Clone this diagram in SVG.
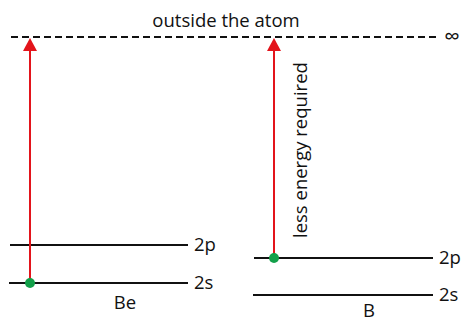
<svg xmlns="http://www.w3.org/2000/svg" width="462" height="322" viewBox="0 0 462 322">
<style>
text{font-family:"Open Sans","Liberation Sans",sans-serif;font-size:18.5px;fill:#111}
.lvl{stroke:#111;stroke-width:2}
.arr{stroke:#e3141b;stroke-width:2;fill:none}
.dot{fill:#13a04a}
</style>
<g id="top">
<line x1="11" y1="37" x2="440" y2="37" stroke="#111" stroke-width="1.8" stroke-dasharray="7,4"/>
<text x="226" y="27" text-anchor="middle">outside the atom</text>
<text x="452" y="44" text-anchor="middle" style="font-size:22px">∞</text>
</g>
<g id="be">
<line class="lvl" x1="10" y1="245" x2="188" y2="245"/>
<line class="lvl" x1="9" y1="283" x2="188" y2="283"/>
<text x="194" y="251">2p</text>
<text x="194" y="289">2s</text>
<text x="125" y="309" text-anchor="middle">Be</text>
</g>
<g id="b">
<line class="lvl" x1="254" y1="258" x2="433" y2="258"/>
<line class="lvl" x1="253" y1="295" x2="433" y2="295"/>
<text x="439" y="264">2p</text>
<text x="439" y="301">2s</text>
<text x="369" y="317" text-anchor="middle">B</text>
<text transform="translate(307,238) rotate(-90)">less energy required</text>
</g>
<g id="connectors">
<line class="arr" x1="30" y1="283" x2="30" y2="50"/>
<path d="M23,51 L30,38 L37,51 Z" fill="#e3141b"/>
<line class="arr" x1="274" y1="258" x2="274" y2="50"/>
<path d="M267,51 L274,38 L281,51 Z" fill="#e3141b"/>
<circle class="dot" cx="30" cy="283" r="5"/>
<circle class="dot" cx="274" cy="258" r="5"/>
</g>
</svg>
